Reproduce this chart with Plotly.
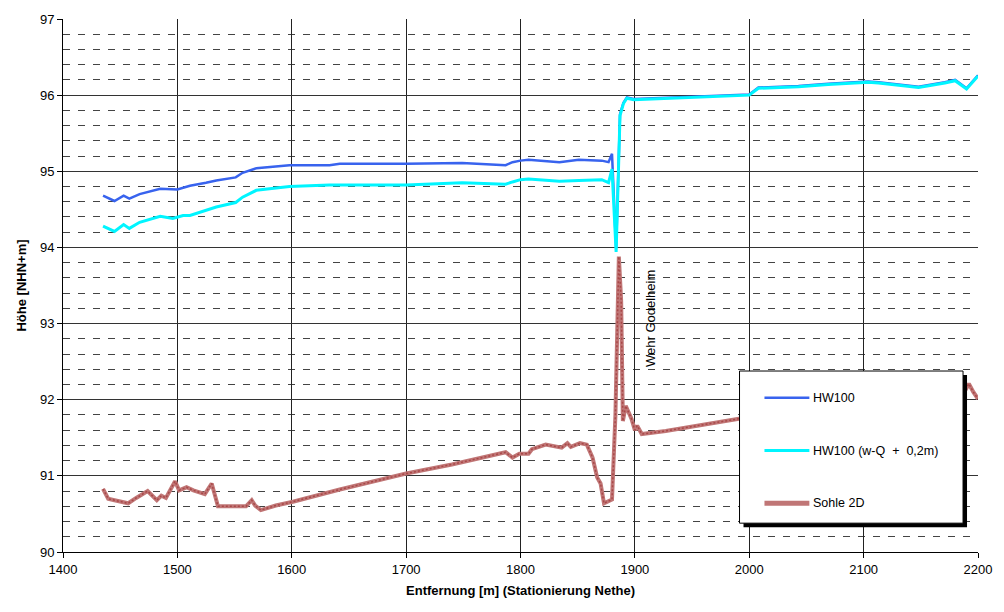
import plotly.graph_objects as go

# ---------------- data ----------------
hw_x = [1435, 1445, 1453, 1458, 1467, 1485, 1500, 1508, 1511, 1525, 1534, 1551, 1557, 1569,
        1598, 1633, 1642, 1700, 1749, 1787, 1793, 1800, 1807, 1834, 1851, 1871, 1877, 1880,
        1883.6, 1887, 1890, 1893, 1899, 1950, 2000, 2008, 2043, 2069, 2104, 2113, 2148, 2171,
        2180, 2190, 2200]
hw_y = [94.68, 94.61, 94.68, 94.64, 94.70, 94.77, 94.76, 94.79, 94.81, 94.85, 94.88, 94.92, 94.98, 95.04,
        95.08, 95.08, 95.10, 95.10, 95.11, 95.08, 95.12, 95.14, 95.15, 95.12, 95.15, 95.14, 95.12, 95.23,
        93.99, 95.75, 95.90, 95.97, 95.95, 95.98, 96.01, 96.10, 96.12, 96.15, 96.18, 96.17, 96.11, 96.17,
        96.20, 96.09, 96.26]

hwq_x = [1435, 1445, 1453, 1458, 1467, 1485, 1496, 1505, 1511, 1525, 1534, 1551, 1557, 1569,
         1598, 1633, 1642, 1700, 1749, 1787, 1793, 1800, 1807, 1834, 1851, 1871, 1877, 1880,
         1883.6, 1887, 1890, 1893, 1899, 1950, 2000, 2008, 2043, 2069, 2104, 2113, 2148, 2171,
         2180, 2190, 2200]
hwq_y = [94.28, 94.21, 94.30, 94.25, 94.33, 94.41, 94.38, 94.42, 94.42, 94.49, 94.53, 94.59, 94.66, 94.75,
         94.80, 94.82, 94.82, 94.82, 94.85, 94.83, 94.86, 94.89, 94.90, 94.87, 94.88, 94.89, 94.85, 95.03,
         93.94, 95.73, 95.89, 95.96, 95.94, 95.97, 96.00, 96.09, 96.11, 96.14, 96.17, 96.16, 96.10, 96.16,
         96.19, 96.08, 96.25]

sohle_x = [1435, 1439.5, 1445, 1457, 1464, 1474, 1482, 1486, 1490, 1498, 1501.5, 1508, 1514, 1524,
           1530, 1535.5, 1560, 1565, 1568, 1573, 1586, 1601, 1642, 1700, 1740, 1787, 1793, 1799,
           1807, 1810, 1822, 1836, 1841, 1844, 1852, 1858, 1863, 1867, 1870, 1873, 1880,
           1883, 1886, 1888, 1889.5, 1892, 1897, 1900, 1902, 1906, 1927, 1991, 2050, 2100,
           2150, 2180, 2188, 2192, 2196, 2200]
sohle_y = [90.83, 90.70, 90.68, 90.64, 90.71, 90.80, 90.68, 90.74, 90.71, 90.93, 90.81, 90.85, 90.81, 90.76,
           90.90, 90.60, 90.60, 90.68, 90.61, 90.55, 90.61, 90.66, 90.82, 91.03, 91.15, 91.31, 91.24, 91.29,
           91.29, 91.35, 91.41, 91.37, 91.43, 91.38, 91.43, 91.41, 91.24, 90.98, 90.90, 90.64, 90.69,
           91.80, 93.88, 93.30, 91.72, 91.92, 91.75, 91.60, 91.66, 91.55, 91.59, 91.75, 91.85, 91.95,
           92.00, 92.05, 92.10, 92.21, 92.10, 92.01]

names = ["HW100", "HW100 (w-Q\u00a0 +\u00a0 0,2m)", "Sohle 2D"]
x_ticks = [1400, 1500, 1600, 1700, 1800, 1900, 2000, 2100, 2200]
y_ticks = [90, 91, 92, 93, 94, 95, 96, 97]

# ---------------- style ----------------
FONT = "Arial, Liberation Sans, sans-serif"
C_HW = "#3863ee"
C_HWQ = "#00f5ff"
C_SOHLE = "#c07676"
W, H = 1004, 612
L, R, T, B = 63, 24, 16, 60
PW, PH = W - L - R, H - T - B


def px(xp):
    return (xp - L) / PW


def py(yp):
    return (H - B - yp) / PH


fig = go.Figure()
fig.add_trace(go.Scatter(x=sohle_x, y=sohle_y, mode="lines", name=names[2],
                         line=dict(color=C_SOHLE, width=4), showlegend=False))
fig.add_trace(go.Scatter(x=sohle_x, y=sohle_y, mode="lines", name=names[2] + " (Muster)",
                         line=dict(color="#9a2a2a", width=1.5, dash="2px,2px"),
                         opacity=0.6, showlegend=False, hoverinfo="skip"))
fig.add_trace(go.Scatter(x=hw_x, y=hw_y, mode="lines", name=names[0],
                         line=dict(color=C_HW, width=2.5), showlegend=False))
fig.add_trace(go.Scatter(x=hwq_x, y=hwq_y, mode="lines", name=names[1],
                         line=dict(color=C_HWQ, width=3), showlegend=False))

# legend (manual, box with shadow)
shapes = []
bx0, bx1, by0, by1 = 741, 965, 370, 523
shapes.append(dict(type="rect", xref="paper", yref="paper", layer="above",
                   x0=px(bx0 + 4), x1=px(bx1 + 4), y0=py(by1 + 4), y1=py(by0 + 4),
                   fillcolor="black", line=dict(width=0)))
shapes.append(dict(type="rect", xref="paper", yref="paper", layer="above",
                   x0=px(bx0), x1=px(bx1), y0=py(by1), y1=py(by0),
                   fillcolor="white", line=dict(color="black", width=1)))
ent_y = [397, 450, 503]
ent_c = [C_HW, C_HWQ, C_SOHLE]
ent_w = [2.5, 3, 5]
annotations = []
for nm, yy, cc, ww in zip(names, ent_y, ent_c, ent_w):
    shapes.append(dict(type="line", xref="paper", yref="paper", layer="above",
                       x0=px(766), x1=px(811), y0=py(yy), y1=py(yy),
                       line=dict(color=cc, width=ww)))
    annotations.append(dict(xref="paper", yref="paper", x=px(813), y=py(yy),
                            text=nm, showarrow=False, xanchor="left", yanchor="middle",
                            font=dict(family=FONT, size=12.5, color="black")))

annotations.append(dict(xref="paper", yref="paper", x=px(652), y=py(317),
                        text="Wehr Godelheim", showarrow=False, textangle=-90,
                        xanchor="center", yanchor="middle",
                        font=dict(family=FONT, size=13, color="black")))

fig.update_layout(
    width=W, height=H,
    margin=dict(l=L, r=R, t=T, b=B),
    paper_bgcolor="white", plot_bgcolor="white",
    font=dict(family=FONT, size=13, color="black"),
    showlegend=False,
    shapes=shapes, annotations=annotations,
)
fig.update_xaxes(
    range=[1400, 2200], tickvals=x_ticks, ticktext=[str(v) for v in x_ticks],
    showgrid=True, gridcolor="#222", gridwidth=1,
    showline=True, linecolor="black", linewidth=1,
    ticks="outside", ticklen=5, tickcolor="black",
    tickfont=dict(family=FONT, size=13),
    zeroline=False,
    title=dict(text="<b>Entfernung [m] (Stationierung Nethe)</b>",
               font=dict(family=FONT, size=13), standoff=10),
)
fig.update_yaxes(
    range=[90, 97], tickvals=y_ticks, ticktext=[str(v) for v in y_ticks],
    showgrid=True, gridcolor="#333", gridwidth=1,
    showline=True, linecolor="black", linewidth=1,
    ticks="outside", ticklen=5, tickcolor="black",
    tickfont=dict(family=FONT, size=13),
    zeroline=False,
    minor=dict(dtick=0.2, tick0=90, showgrid=True, gridcolor="#444",
               griddash="7px,8px", gridwidth=1),
    title=dict(text="<b>Höhe [NHN+m]</b>", font=dict(family=FONT, size=13), standoff=10),
)

fig.write_html("out.html")
